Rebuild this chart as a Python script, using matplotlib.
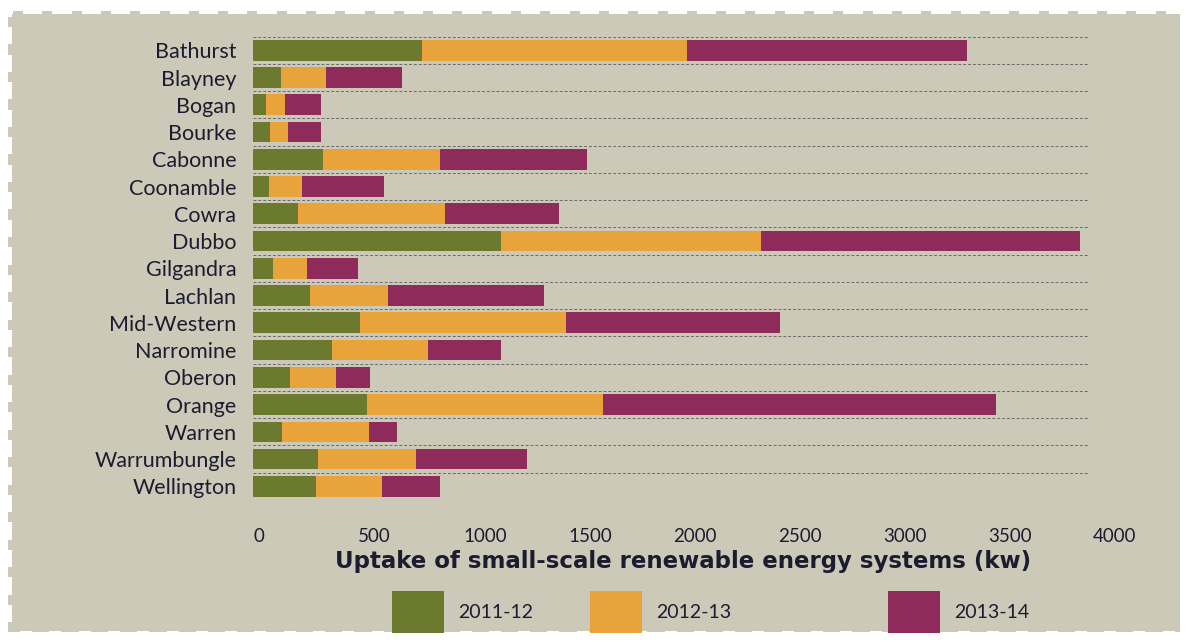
import matplotlib
matplotlib.use("Agg")
import matplotlib.pyplot as plt
from matplotlib.patches import Rectangle
import numpy as np

councils = ["Bathurst", "Blayney", "Bogan", "Bourke", "Cabonne", "Coonamble", "Cowra",
            "Dubbo", "Gilgandra", "Lachlan", "Mid-Western", "Narromine", "Oberon",
            "Orange", "Warren", "Warrumbungle", "Wellington"]
y2011 = [805, 133, 62, 81, 333, 76, 214, 1181, 95, 271, 510, 376, 176, 543, 138, 310, 300]
y2012 = [1262, 215, 90, 86, 557, 157, 700, 1238, 162, 372, 980, 457, 219, 1124, 414, 466, 314]
y2013 = [1333, 362, 172, 157, 700, 391, 543, 1519, 243, 743, 1020, 348, 162, 1871, 134, 529, 276]
periods = ["2011-12", "2012-13", "2013-14"]
colors = ["#6b7a2e", "#e8a43a", "#8e2b5b"]
xticks = [0, 500, 1000, 1500, 2000, 2500, 3000, 3500, 4000]

W, H = 1186, 643
bg = "#cdc9b8"
txt = "#1c1c30"
plt.rcParams["font.family"] = ["Lato", "DejaVu Sans"]

fig = plt.figure(figsize=(W / 100, H / 100), dpi=100)
fig.patch.set_facecolor("white")


def fx(x):
    return x / W


def fy(y):
    return 1 - y / H


# stamp-like panel
fig.add_artist(Rectangle((fx(12), fy(632)), fx(1180) - fx(12), fy(14) - fy(632),
                         transform=fig.transFigure, facecolor=bg, edgecolor="none", zorder=0))
for xc in np.arange(18, 1180, 29.3):
    fig.add_artist(Rectangle((fx(xc - 5), fy(15)), fx(10), 4 / H,
                             transform=fig.transFigure, facecolor=bg, edgecolor="none", zorder=0))
for yc in np.arange(22, 632, 27.5):
    fig.add_artist(Rectangle((fx(8), fy(yc + 5)), fx(5), 10 / H,
                             transform=fig.transFigure, facecolor=bg, edgecolor="none", zorder=0))
for xc in np.arange(20, 1180, 29.3):
    fig.add_artist(Rectangle((fx(xc), fy(634)), fx(12), 3 / H,
                             transform=fig.transFigure, facecolor="white", edgecolor="none", zorder=1))

ax = fig.add_axes([fx(253), fy(500), fx(1093) - fx(253), fy(36.7) - fy(500)])
ax.set_facecolor("none")

ypos = np.arange(len(councils))
left = np.zeros(len(councils))
for vals, c, lab in zip([y2011, y2012, y2013], colors, periods):
    ax.barh(ypos, vals, left=left, height=0.76, color=c, label=lab, zorder=3)
    left = left + np.array(vals)

for b in np.arange(-0.5, len(councils), 1.0):
    ax.plot([0, 3975], [b, b], color="#6a6a6a", lw=0.7, ls=(0, (3, 2)), zorder=2)

ax.set_xlim(0, 4000)
ax.set_ylim(len(councils) - 0.5, -0.5)
ax.set_yticks(ypos)
ax.set_yticklabels(councils, fontsize=15.5, color=txt)
ax.set_xticks(xticks)
ax.set_xticklabels([str(t) for t in xticks], fontsize=13.5, color=txt, ha="left")
ax.tick_params(axis="y", length=0, pad=12)
ax.tick_params(axis="x", length=0, pad=20)
for s in ax.spines.values():
    s.set_visible(False)

ax.set_xlabel("Uptake of small-scale renewable energy systems (kw)", fontsize=16.5,
              fontweight="bold", color=txt, family=["DejaVu Sans"])
ax.xaxis.set_label_coords((683 - 253) / 840, -(550 - 500) / 463.3)

# legend
leg_x = [392, 590, 888]
for lx, c, lab in zip(leg_x, colors, periods):
    fig.add_artist(Rectangle((fx(lx), fy(633)), fx(52), 42 / H,
                             transform=fig.transFigure, facecolor=c, edgecolor="none", zorder=2))
    fig.text(fx(lx + 66), fy(612), lab, fontsize=14, color=txt, va="center", ha="left")

fig.savefig("out.png", dpi=100, facecolor=fig.get_facecolor())
